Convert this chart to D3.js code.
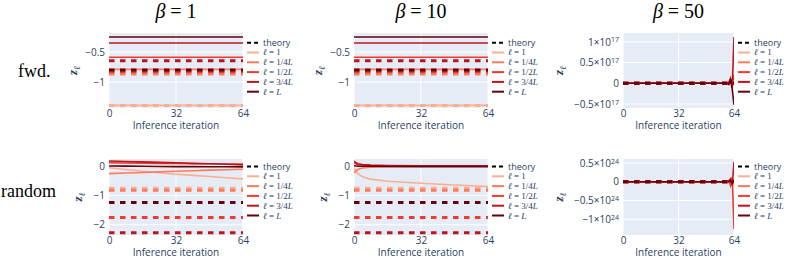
<!DOCTYPE html>
<html>
<head>
<script src="https://d3js.org/d3.v7.min.js"></script>
<style>
body { margin: 0; background: white; }
</style>
</head>
<body>
<div id="chart"></div>
<script>
/* layers and colours */
var layerNames = ["1", "1/4L", "1/2L", "3/4L", "L"];
var layerColors = ["#fcae91", "#fb7b5b", "#ef3b2c", "#c0141c", "#67000d"];
var betas = [1, 10, 50];
var rowNames = ["fwd.", "random"];
var xTicks = [0, 32, 64];

/* fwd init, beta = 1 and beta = 10 : constant over the iterations */
var fwdIters = [0, 64];
var fwdB1 = [[-1.39, -1.39], [-0.79, -0.79], [-0.588, -0.588], [-0.35, -0.35], [-0.25, -0.25]];
var fwdB10 = [[-1.39, -1.39], [-0.79, -0.79], [-0.588, -0.588], [-0.35, -0.35], [-0.25, -0.25]];
var fwdTheory = [-1.39, -0.865, -0.83, -0.645, -0.80];

/* random init */
var rndItersB1 = [0, 8, 16, 24, 32, 40, 48, 56, 64];
var rndB1 = [
  [-0.05, -0.11, -0.17, -0.22, -0.27, -0.31, -0.35, -0.39, -0.43],
  [-0.25, -0.23, -0.21, -0.19, -0.17, -0.15, -0.13, -0.12, -0.10],
  [0.12, 0.115, 0.11, 0.10, 0.095, 0.09, 0.085, 0.08, 0.075],
  [0.18, 0.165, 0.15, 0.135, 0.12, 0.10, 0.085, 0.07, 0.05],
  [0.01, 0.005, 0, -0.005, -0.01, -0.01, -0.015, -0.015, -0.02]
];
var rndItersB10 = [0, 1, 2, 4, 8, 16, 32, 48, 64];
var rndB10 = [
  [-0.05, -0.18, -0.26, -0.36, -0.44, -0.51, -0.58, -0.64, -0.69],
  [-0.24, -0.15, -0.10, -0.06, -0.03, -0.01, 0, 0, 0],
  [0.12, 0.08, 0.06, 0.04, 0.02, 0.01, 0.005, 0, 0],
  [0.18, 0.12, 0.09, 0.06, 0.04, 0.03, 0.02, 0.02, 0.02],
  [0.02, 0.01, 0.005, 0, 0, -0.005, -0.01, -0.01, -0.01]
];
var rndTheory = [-0.75, -0.82, -1.75, -2.27, -1.24];

/* beta = 50 : blows up at the end */
var b50Iters = [0, 60, 61, 62, 63, 64];
var fwdB50 = [
  [-1.39, -1.39, -1.39, -1.39, -1.39, -1.39],
  [-0.79, -0.79, 0, 0.01e17, -0.02e17, 0.05e17],
  [-0.59, -0.59, 0.01e17, 0.03e17, -0.05e17, 0.2e17],
  [-0.35, -0.35, 0.02e17, 0.12e17, -0.1e17, 1.12e17],
  [-0.25, -0.25, -0.03e17, 0.1e17, -0.15e17, -0.52e17]
];
var rndB50 = [
  [-0.4, -0.4, -0.4, -0.4, -0.4, -0.4],
  [0, 0, 0, 0.02e24, -0.02e24, 0.05e24],
  [0.1, 0.1, 0.03e24, -0.1e24, 0.12e24, -1.26e24],
  [0.1, 0.1, 0.02e24, 0.08e24, -0.1e24, 0.53e24],
  [0, 0, 0, 0.03e24, -0.03e24, 0.05e24]
];

/* y ticks */
var yTicksFwd = [-1, -0.5];
var yTicksRnd = [-2, -1, 0];
var yTicksFwdB50 = [-0.5e17, 0, 0.5e17, 1e17];
var yTicksRndB50 = [-1e24, -0.5e24, 0, 0.5e24];

var svg = d3.select("#chart").append("svg")
    .attr("width", 793)
    .attr("height", 259);

var colX = [[109, 243], [354, 488], [623, 734]];
var rowY = [[33, 108], [159, 235]];
var legendY0 = [42.7, 166.5];

var sans = "'Open Sans', sans-serif";
var serif = "'Liberation Serif', 'DejaVu Serif', serif";
var axisColor = "#2a3f5f";

var panels = [
  {r: 0, c: 0, iters: fwdIters, lines: fwdB1, theory: fwdTheory, dom: [-1.433, -0.183], ticks: yTicksFwd, exp: 0},
  {r: 0, c: 1, iters: fwdIters, lines: fwdB10, theory: fwdTheory, dom: [-1.433, -0.183], ticks: yTicksFwd, exp: 0},
  {r: 0, c: 2, iters: b50Iters, lines: fwdB50, theory: fwdTheory, dom: [-0.597e17, 1.215e17], ticks: yTicksFwdB50, exp: 17},
  {r: 1, c: 0, iters: rndItersB1, lines: rndB1, theory: rndTheory, dom: [-2.35, 0.25], ticks: yTicksRnd, exp: 0},
  {r: 1, c: 1, iters: rndItersB10, lines: rndB10, theory: rndTheory, dom: [-2.35, 0.25], ticks: yTicksRnd, exp: 0},
  {r: 1, c: 2, iters: b50Iters, lines: rndB50, theory: rndTheory, dom: [-1.42e24, 0.608e24], ticks: yTicksRndB50, exp: 24}
];

function minus(s) { return s.replace("-", "\u2212"); }

panels.forEach(function(p, pi) {
    var x0 = colX[p.c][0], x1 = colX[p.c][1];
    var y0 = rowY[p.r][0], y1 = rowY[p.r][1];
    var x = d3.scaleLinear().domain([0, 64]).range([x0, x1]);
    var y = d3.scaleLinear().domain(p.dom).range([y1, y0]);

    var g = svg.append("g");

    g.append("clipPath").attr("id", "clip" + pi)
      .append("rect").attr("x", x0).attr("y", y0)
      .attr("width", x1 - x0).attr("height", y1 - y0);

    /* background */
    g.append("rect")
        .attr("x", x0).attr("y", y0)
        .attr("width", x1 - x0).attr("height", y1 - y0)
        .attr("fill", "#e5ecf6");

    /* grid */
    xTicks.forEach(function(t) {
        g.append("line")
            .attr("x1", x(t)).attr("x2", x(t))
            .attr("y1", y0).attr("y2", y1)
            .attr("stroke", "white").attr("stroke-width", 1);
    });
    p.ticks.forEach(function(t) {
        g.append("line")
            .attr("x1", x0).attr("x2", x1)
            .attr("y1", y(t)).attr("y2", y(t))
            .attr("stroke", "white").attr("stroke-width", t === 0 ? 2 : 1);
    });

    /* axes */
    var xa = g.append("g")
        .attr("transform", "translate(0," + y1 + ")")
        .call(d3.axisBottom(x).tickValues(xTicks).tickSize(0).tickPadding(2));
    xa.select(".domain").remove();
    xa.selectAll("text")
        .attr("fill", axisColor)
        .attr("font-family", sans)
        .attr("font-size", "10px");

    var ya = g.append("g")
        .attr("transform", "translate(" + x0 + ",0)")
        .call(d3.axisLeft(y).tickValues(p.ticks).tickSize(0).tickPadding(4)
            .tickFormat(function(d) {
                if (p.exp === 0 || d === 0) return minus(String(d));
                return minus(String(d / Math.pow(10, p.exp)));
            }));
    ya.select(".domain").remove();
    ya.selectAll("text")
        .attr("fill", axisColor)
        .attr("font-family", sans)
        .attr("font-size", "10px")
        .each(function(d) {
            if (p.exp === 0 || d === 0) return;
            var t = d3.select(this);
            var m = t.text();
            t.text(null);
            t.append("tspan").text(m + "\u00d710");
            t.append("tspan").attr("font-size", "7px").attr("dy", "-0.45em").text(p.exp);
        });

    g.append("text")
        .attr("x", (x0 + x1) / 2)
        .attr("y", y1 + 21)
        .attr("text-anchor", "middle")
        .attr("fill", axisColor)
        .attr("font-family", sans)
        .attr("font-size", "10px")
        .text("Inference iteration");

    /* y label z_l */
    var ylx = p.c === 2 ? x0 - 60 : (p.r === 0 ? x0 - 32 : x0 - 27);
    var yl = g.append("text")
        .attr("transform", "translate(" + ylx + "," + ((y0 + y1) / 2) + ") rotate(-90)")
        .attr("text-anchor", "middle")
        .attr("fill", axisColor)
        .attr("font-family", serif)
        .attr("font-weight", "bold")
        .attr("font-size", "13px");
    yl.append("tspan").attr("font-style", "italic").text("z");
    yl.append("tspan").attr("font-style", "italic").attr("font-size", "9px").attr("dy", "0.3em").text("\u2113");

    /* lines */
    var plot = g.append("g").attr("clip-path", "url(#clip" + pi + ")");
    var line = d3.line()
        .x(function(d) { return x(d[0]); })
        .y(function(d) { return y(d[1]); });

    p.lines.forEach(function(vals, li) {
        plot.append("path")
            .datum(p.iters.map(function(it, k) { return [it, vals[k]]; }))
            .attr("d", line)
            .attr("fill", "none")
            .attr("stroke", layerColors[li])
            .attr("stroke-width", 1.6);
    });
    p.theory.forEach(function(v, li) {
        plot.append("path")
            .datum([[0, v], [64, v]])
            .attr("d", line)
            .attr("fill", "none")
            .attr("stroke", layerColors[li])
            .attr("stroke-width", 3)
            .attr("stroke-dasharray", "5.5,5.5");
    });

    /* legend */
    var lg = g.append("g").attr("transform", "translate(" + (x1 + 4) + "," + legendY0[p.r] + ")");
    lg.append("line")
        .attr("x1", 0).attr("x2", 12).attr("y1", 0).attr("y2", 0)
        .attr("stroke", "black").attr("stroke-width", 2)
        .attr("stroke-dasharray", "4,3");
    lg.append("text")
        .attr("x", 16).attr("y", 3)
        .attr("fill", axisColor)
        .attr("font-family", sans)
        .attr("font-size", "9px")
        .text("theory");
    layerNames.forEach(function(name, li) {
        var yy = (li + 1) * 9.8;
        lg.append("line")
            .attr("x1", 0).attr("x2", 12).attr("y1", yy).attr("y2", yy)
            .attr("stroke", layerColors[li]).attr("stroke-width", 2);
        var t = lg.append("text")
            .attr("x", 16).attr("y", yy + 3)
            .attr("fill", axisColor)
            .attr("font-family", serif)
            .attr("font-size", "9px");
        t.append("tspan").attr("font-style", "italic").text("\u2113");
        t.append("tspan").text(" = ");
        if (name === "L") {
            t.append("tspan").attr("font-style", "italic").text("L");
        } else if (name === "1") {
            t.append("tspan").text("1");
        } else {
            t.append("tspan").text(name.slice(0, -1));
            t.append("tspan").attr("font-style", "italic").text("L");
        }
    });
});

/* column titles */
betas.forEach(function(b, c) {
    var t = svg.append("text")
        .attr("x", (colX[c][0] + colX[c][1]) / 2)
        .attr("y", 18)
        .attr("text-anchor", "middle")
        .attr("font-family", serif)
        .attr("font-size", "20px")
        .attr("fill", "black");
    t.append("tspan").attr("font-style", "italic").text("\u03b2");
    t.append("tspan").text(" = " + b);
});

/* row titles */
svg.append("text").attr("x", 18).attr("y", 77)
    .attr("font-family", serif).attr("font-size", "18px").text(rowNames[0]);
svg.append("text").attr("x", 1).attr("y", 197)
    .attr("font-family", serif).attr("font-size", "18px").text(rowNames[1]);
</script>
</body>
</html>
